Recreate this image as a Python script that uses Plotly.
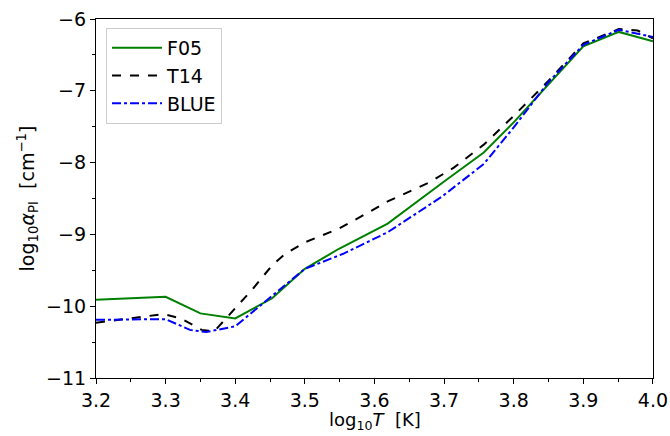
import plotly.graph_objects as go

f05_x = [3.2, 3.30, 3.35, 3.40, 3.453, 3.50, 3.549, 3.619, 3.702, 3.757, 3.80, 3.90, 3.951, 4.0]
f05_y = [-9.91, -9.87, -10.10, -10.17, -9.89, -9.48, -9.20, -8.85, -8.25, -7.86, -7.44, -6.38, -6.18, -6.31]

t14_x = [3.2, 3.248, 3.297, 3.322, 3.352, 3.37, 3.40, 3.426, 3.453, 3.472, 3.50, 3.549, 3.592, 3.619,
         3.678, 3.714, 3.757, 3.80, 3.849, 3.90, 3.951, 3.978, 4.0]
t14_y = [-10.23, -10.17, -10.11, -10.17, -10.33, -10.35, -10.03, -9.75, -9.43, -9.27, -9.11, -8.92, -8.69,
         -8.54, -8.28, -8.07, -7.75, -7.35, -6.87, -6.34, -6.14, -6.16, -6.27]

blue_x = [3.2, 3.248, 3.30, 3.335, 3.358, 3.40, 3.453, 3.50, 3.555, 3.619, 3.696, 3.757, 3.80, 3.849, 3.90, 3.951, 4.0]
blue_y = [-10.19, -10.19, -10.18, -10.33, -10.36, -10.28, -9.85, -9.48, -9.27, -8.97, -8.48, -8.02, -7.51, -6.89, -6.36, -6.15, -6.25]

y_ticks = [-11, -10, -9, -8, -7, -6]
y_tick_text = ["\u221211", "\u221210", "\u22129", "\u22128", "\u22127", "\u22126"]
x_ticks = [3.2, 3.3, 3.4, 3.5, 3.6, 3.7, 3.8, 3.9, 4.0]
x_tick_text = ["3.2", "3.3", "3.4", "3.5", "3.6", "3.7", "3.8", "3.9", "4.0"]

FS = 19

fig = go.Figure()
fig.add_trace(go.Scatter(x=f05_x, y=f05_y, mode="lines", name="F05",
                         line=dict(color="green", width=2)))
fig.add_trace(go.Scatter(x=t14_x, y=t14_y, mode="lines", name="T14",
                         line=dict(color="black", width=2, dash="dash")))
fig.add_trace(go.Scatter(x=blue_x, y=blue_y, mode="lines", name="BLUE",
                         line=dict(color="blue", width=2, dash="dashdot")))

axis_common = dict(showgrid=False, zeroline=False, showline=True, linecolor="black", linewidth=1.2,
                   mirror=True, ticks="outside", ticklen=5, tickwidth=1.2, tickcolor="black",
                   automargin=False,
                   tickfont=dict(family="DejaVu Sans", size=FS, color="black"))

fig.update_xaxes(range=[3.2, 4.0001], tickvals=x_ticks, ticktext=x_tick_text,
                 minor=dict(dtick=0.05, tick0=3.2, ticks="outside", ticklen=3, tickcolor="black"),
                 **axis_common)
fig.update_yaxes(range=[-11, -6], tickvals=y_ticks, ticktext=y_tick_text,
                 minor=dict(dtick=0.5, tick0=-11, ticks="outside", ticklen=3, tickcolor="black"),
                 title=dict(text="log<sub>10</sub><i>α</i><sub>PI</sub>  [cm<sup>\u22121</sup>]", standoff=6,
                            font=dict(family="DejaVu Sans", size=FS, color="black")),
                 **axis_common)

fig.add_annotation(text="log<sub>10</sub><i>T</i>  [K]", xref="paper", yref="paper",
                   x=0.5, y=-0.12, xanchor="center", yanchor="middle", showarrow=False,
                   font=dict(family="DejaVu Sans", size=18, color="black"))

fig.update_layout(
    width=670, height=436,
    margin=dict(l=96, r=17, t=19, b=58),
    paper_bgcolor="white", plot_bgcolor="white",
    font=dict(family="DejaVu Sans", size=FS, color="black"),
    showlegend=True,
    legend=dict(x=0.018, y=0.975, xanchor="left", yanchor="top",
                bgcolor="rgba(255,255,255,0.8)", bordercolor="#cccccc", borderwidth=1,
                font=dict(family="DejaVu Sans", size=FS, color="black"),
                itemwidth=50, tracegroupgap=6),
)

fig.write_html("out.html")
